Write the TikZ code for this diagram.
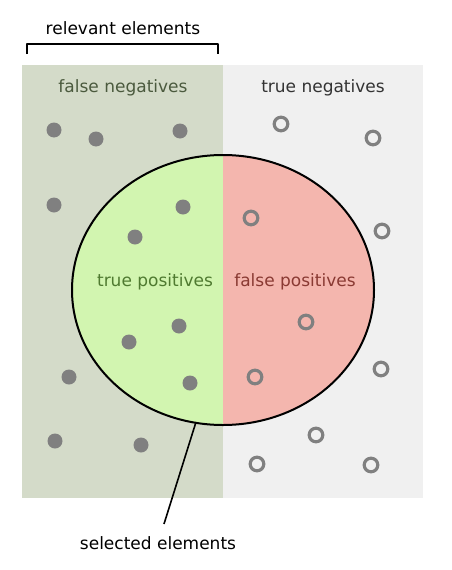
\documentclass[tikz,border=0pt]{standalone}
\usepackage{fontspec}
\setmainfont{DejaVu Sans}
\definecolor{fnbg}{HTML}{D4DBC9}
\definecolor{tnbg}{HTML}{F0F0F0}
\definecolor{tpfill}{HTML}{D2F5B0}
\definecolor{fpfill}{HTML}{F4B6AE}
\definecolor{fntext}{HTML}{4B5A3E}
\definecolor{tptext}{HTML}{4F7A30}
\definecolor{fptext}{HTML}{8A3A33}
\definecolor{dotgray}{HTML}{808080}
\tikzset{
  lbl/.style={font=\fontsize{17}{20}\selectfont, inner sep=1pt},
  reldot/.style={fill=dotgray},
  ring/.style={draw=dotgray, line width=3.2pt}
}
\begin{document}
\begin{tikzpicture}[x=1pt,y=-1pt,line join=round]
  \useasboundingbox (0,0) rectangle (452,570);
  \coordinate (C) at (223,290);

  % backgrounds
  \fill[fnbg] (22,65) rectangle (223,498);
  \fill[tnbg] (223,65) rectangle (423,498);

  % selected ellipse, two halves
  \fill[tpfill] (223,425) arc (90:270:151 and 135) -- cycle;
  \fill[fpfill] (223,425) arc (90:-90:151 and 135) -- cycle;
  \draw[line width=2pt] (C) ellipse (151 and 135);

  % bracket
  \draw[line width=1.8pt] (27,54) -- (27,44) -- (218,44) -- (218,54);
  \node[lbl] (relevant) at (123,28) {relevant elements};

  \node[lbl, text=fntext] (fn) at (123,88) {false negatives};
  \node[lbl, text=black!80] (tn) at (323,88) {true negatives};
  \node[lbl, text=tptext] (tp) at (155,282) {true positives};
  \node[lbl, text=fptext] (fp) at (295,282) {false positives};

  % relevant items
  \foreach \x/\y in {54/130, 96/139, 180/131, 54/205, 183/207, 135/237,
                     179/326, 129/342, 190/383, 69/377, 55/441, 141/445}
    \fill[reldot] (\x,\y) circle (7.5);

  % irrelevant items
  \foreach \x/\y in {281/124, 373/138, 251/218, 382/231, 306/322,
                     381/369, 255/377, 316/435, 257/464, 371/465}
    \draw[ring] (\x,\y) circle (6.8);

  % pointer to the ellipse
  \coordinate (sel) at (196,422);
  \node[lbl, inner sep=6pt] (selected) at (158,543) {selected elements};
  \draw[line width=1.6pt] (sel) -- (164,524);
\end{tikzpicture}
\end{document}
